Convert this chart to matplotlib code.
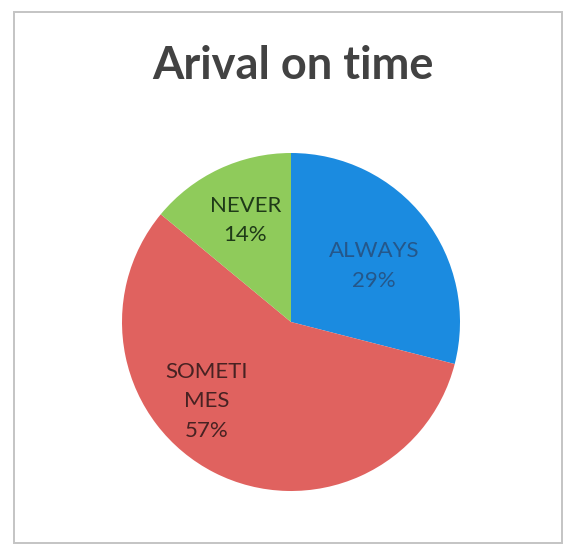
import matplotlib.pyplot as plt
from matplotlib.patches import Rectangle

# Arrival survey results (percent of responses)
categories = ["ALWAYS", "SOMETIMES", "NEVER"]
shares = [29, 57, 14]
label_names = ["ALWAYS", "SOMETI\nMES", "NEVER"]

slice_colors = ["#1b8be0", "#e0625f", "#8fcb5b"]
text_colors = ["#25578a", "#472222", "#1f3a18"]
# label anchor points inside each slice (pie radius = 1)
label_xy = [(0.49, 0.33), (-0.50, -0.47), (-0.27, 0.60)]

W, H = 564, 547
fig = plt.figure(figsize=(W / 100, H / 100), dpi=100)
fig.patch.set_facecolor("white")

# chart-area border
fig.add_artist(Rectangle((14 / W, 1 - 543 / H), (562 - 14) / W, (543 - 12) / H,
                         transform=fig.transFigure, fill=False,
                         edgecolor="#c4c4c4", linewidth=1.4))

fig.text(293 / W, 1 - 79 / H, "Arival on time", ha="center", va="baseline",
         fontsize=32.5, fontweight="bold", color="#424242", family="Lato")

cx, cy, r = 291, 322, 169
ax = fig.add_axes([(cx - r) / W, (H - cy - r) / H, 2 * r / W, 2 * r / H])
wedges, _ = ax.pie(shares, colors=slice_colors, startangle=90, counterclock=False,
                   radius=1, wedgeprops=dict(linewidth=0))
ax.set_xlim(-1, 1)
ax.set_ylim(-1, 1)
ax.set_aspect("equal")
ax.axis("off")

for name, val, (x, y), c in zip(label_names, shares, label_xy, text_colors):
    ax.text(x, y, f"{name}\n{val}%", ha="center", va="center", fontsize=16,
            color=c, family="Lato", linespacing=1.6)

fig.savefig("out.png", dpi=100)
